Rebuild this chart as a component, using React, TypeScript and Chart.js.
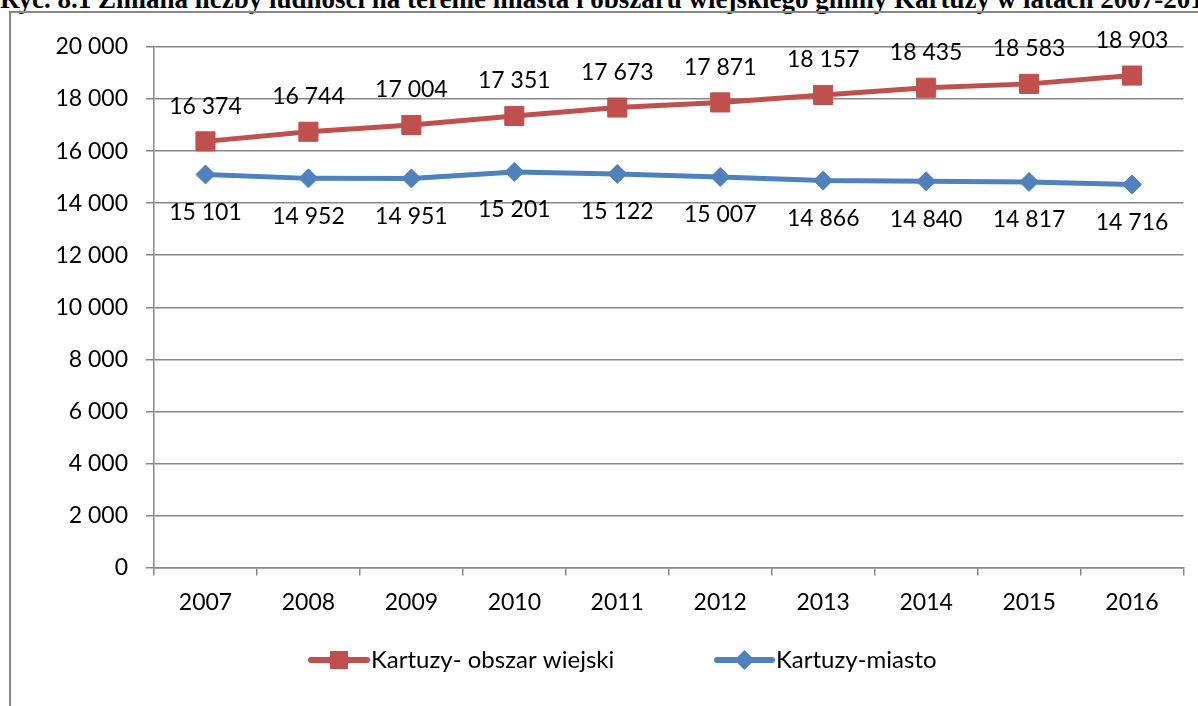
import React, { useEffect, useRef } from "react";
import { Chart, registerables } from "chart.js";

Chart.register(...registerables);

const titleText =
  "Ryc. 8.1 Zmiana liczby ludności na terenie miasta i obszaru wiejskiego gminy Kartuzy w latach 2007-2016";
const years = ["2007", "2008", "2009", "2010", "2011", "2012", "2013", "2014", "2015", "2016"];
const ruralLabel = "Kartuzy- obszar wiejski";
const ruralValues = [16374, 16744, 17004, 17351, 17673, 17871, 18157, 18435, 18583, 18903];
const cityLabel = "Kartuzy-miasto";
const cityValues = [15101, 14952, 14951, 15201, 15122, 15007, 14866, 14840, 14817, 14716];
const yMin = 0;
const yMax = 20000;
const yStep = 2000;

const RED = "#C0504D";
const BLUE = "#4F81BD";
const GRID = "#878787";
const FONT = "Lato, 'Open Sans', sans-serif";

const fmt = (v: number) => String(Math.round(v)).replace(/\B(?=(\d{3})+(?!\d))/g, " ");

const dataLabelPlugin = {
  id: "dataLabels",
  afterDatasetsDraw(chart: any) {
    const ctx = chart.ctx;
    ctx.save();
    ctx.font = `23px ${FONT}`;
    ctx.fillStyle = "#000";
    ctx.textAlign = "center";
    ctx.textBaseline = "middle";
    chart.data.datasets.forEach((ds: any, i: number) => {
      const meta = chart.getDatasetMeta(i);
      const off = i === 0 ? -35 : 38;
      meta.data.forEach((pt: any, j: number) => {
        ctx.fillText(fmt(ds.data[j]), pt.x, pt.y + off);
      });
    });
    ctx.restore();
  },
};

const legendPlugin = {
  id: "customLegend",
  afterDraw(chart: any) {
    const ctx = chart.ctx;
    const y = 660;
    const items = [
      { x0: 311, x1: 367, color: RED, style: "rect", text: ruralLabel, tx: 371 },
      { x0: 717, x1: 772, color: BLUE, style: "rectRot", text: cityLabel, tx: 776 },
    ];
    ctx.save();
    items.forEach((it) => {
      ctx.strokeStyle = it.color;
      ctx.lineWidth = 6;
      ctx.lineCap = "round";
      ctx.beginPath();
      ctx.moveTo(it.x0, y);
      ctx.lineTo(it.x1, y);
      ctx.stroke();
      ctx.fillStyle = it.color;
      const cx = (it.x0 + it.x1) / 2;
      ctx.beginPath();
      if (it.style === "rect") {
        ctx.rect(cx - 9, y - 9, 18, 18);
      } else {
        ctx.moveTo(cx, y - 10);
        ctx.lineTo(cx + 10, y);
        ctx.lineTo(cx, y + 10);
        ctx.lineTo(cx - 10, y);
        ctx.closePath();
      }
      ctx.fill();
      ctx.fillStyle = "#000";
      ctx.font = `24px ${FONT}`;
      ctx.textAlign = "left";
      ctx.textBaseline = "middle";
      ctx.fillText(it.text, it.tx, y);
    });
    ctx.restore();
  },
};

export default function App() {
  const canvasRef = useRef<HTMLCanvasElement | null>(null);

  useEffect(() => {
    if (!canvasRef.current) return;
    const chart = new Chart(canvasRef.current, {
      type: "line",
      data: {
        labels: years,
        datasets: [
          {
            label: ruralLabel,
            data: ruralValues,
            borderColor: RED,
            backgroundColor: RED,
            borderWidth: 5,
            pointStyle: "rect",
            pointRadius: 13.5,
            pointBorderWidth: 1,
            pointBorderColor: RED,
            pointBackgroundColor: RED,
            tension: 0,
          },
          {
            label: cityLabel,
            data: cityValues,
            borderColor: BLUE,
            backgroundColor: BLUE,
            borderWidth: 5,
            pointStyle: "rectRot",
            pointRadius: 9.5,
            pointBorderWidth: 1,
            pointBorderColor: BLUE,
            pointBackgroundColor: BLUE,
            tension: 0,
          },
        ],
      },
      options: {
        animation: false,
        responsive: false,
        maintainAspectRatio: false,
        layout: { padding: { left: 0, top: 47, right: 11, bottom: 0 } },
        plugins: {
          legend: { display: false },
          title: { display: false },
          tooltip: { enabled: false },
        },
        scales: {
          x: {
            type: "category",
            offset: true,
            grid: {
              offset: true,
              drawOnChartArea: false,
              drawTicks: true,
              tickLength: 8,
              color: GRID,
              lineWidth: 1.5,
            },
            border: { display: true, color: GRID, width: 1.5 },
            ticks: {
              font: { family: FONT, size: 23 },
              color: "#000",
              padding: 13,
              maxRotation: 0,
              autoSkip: false,
            },
            afterFit(scale: any) {
              scale.height = 138.5;
            },
          },
          y: {
            min: yMin,
            max: yMax,
            grid: {
              color: GRID,
              lineWidth: 1.5,
              drawTicks: true,
              tickLength: 8,
            },
            border: { display: true, color: GRID, width: 1.5 },
            ticks: {
              stepSize: yStep,
              font: { family: FONT, size: 23 },
              color: "#000",
              padding: 18,
              autoSkip: false,
              callback: (v: any) => fmt(Number(v)),
            },
            afterFit(scale: any) {
              scale.width = 154;
            },
          },
        },
      },
      plugins: [dataLabelPlugin, legendPlugin],
    });
    return () => chart.destroy();
  }, []);

  return (
    <div
      style={{
        position: "fixed",
        left: 0,
        top: 0,
        width: 1198,
        height: 706,
        overflow: "hidden",
        background: "#fff",
      }}
    >
      <div
        style={{
          position: "absolute",
          left: 0,
          top: -14,
          whiteSpace: "nowrap",
          fontFamily: "'Liberation Serif', 'Times New Roman', serif",
          fontWeight: "bold",
          fontSize: 27,
          lineHeight: "27px",
          color: "#000",
        }}
      >
        {titleText}
      </div>
      <div
        style={{
          position: "absolute",
          left: 9,
          top: 11,
          width: 1300,
          height: 800,
          borderLeft: `2px solid ${GRID}`,
          borderTop: `2px solid ${GRID}`,
          boxSizing: "border-box",
        }}
      />
      <canvas
        ref={canvasRef}
        width={1198}
        height={706}
        style={{ position: "absolute", left: 0, top: 0, width: 1198, height: 706 }}
      />
    </div>
  );
}
